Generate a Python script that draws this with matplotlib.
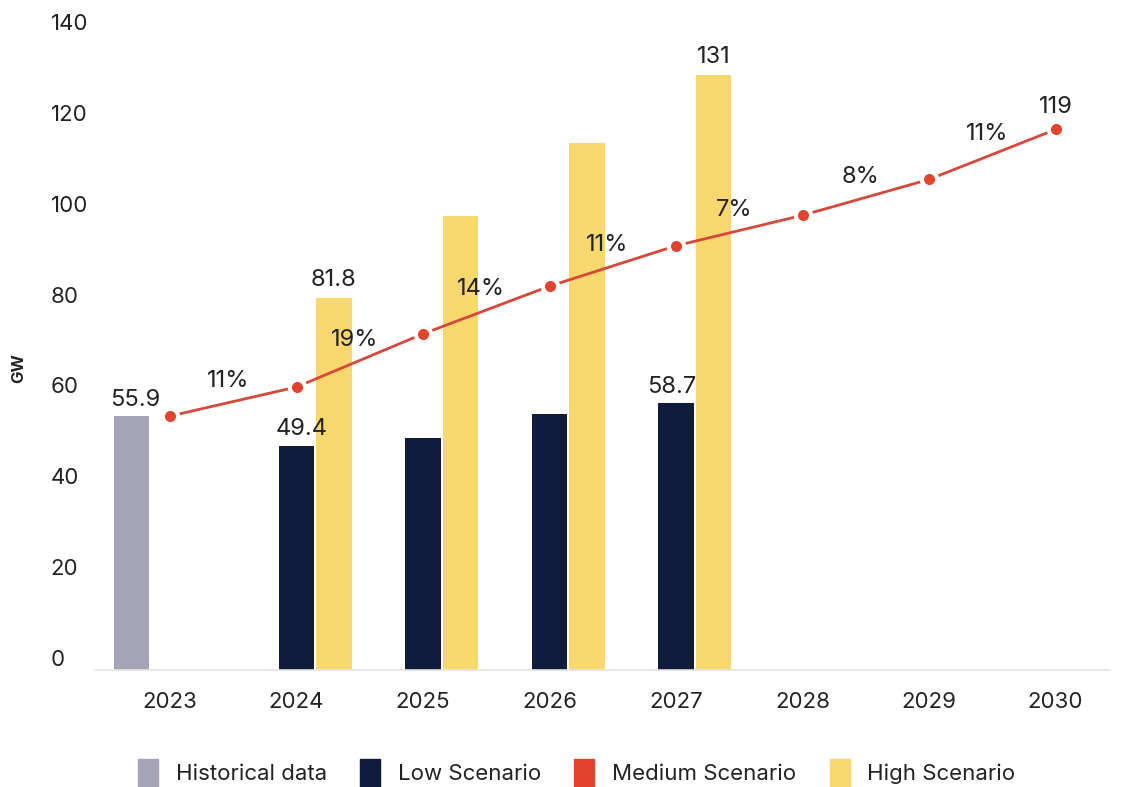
import matplotlib
matplotlib.use("Agg")
import matplotlib.pyplot as plt
import matplotlib.transforms as mtransforms
from matplotlib.patches import Patch
import numpy as np

plt.rcParams['font.family'] = ['Inter', 'DejaVu Sans']

years = ['2023', '2024', '2025', '2026', '2027', '2028', '2029', '2030']
historical = [55.9]                     # 2023 only
low = [49.4, 51.1, 56.4, 58.7]          # 2024-2027
high = [81.8, 100.0, 116.0, 131.0]      # 2024-2027
medium = [55.9, 62.3, 74.0, 84.5, 93.4, 100.1, 108.0, 119.0]
growth = ['11%', '19%', '14%', '11%', '7%', '8%', '11%']

c_hist = '#a5a4b7'
c_low = '#0f1c3b'
c_med = '#e4422b'
c_high = '#f8d86c'
txt = '#222222'

fig = plt.figure(figsize=(11.24, 7.87), dpi=100)
ax = fig.add_axes([0.0845, 0.1487, 0.903, 0.808])

x = np.arange(len(years))
w = 0.28

ax.bar(x[0] - 0.305, historical, w, color=c_hist)
ax.bar(x[1:5], low, w, color=c_low)
ax.bar(x[1:5] + 0.295, high, w, color=c_high)

ax.plot(x, medium, color='#d9473b', lw=2, zorder=3)
ax.plot(x, medium, ls='none', marker='o', ms=11, mfc=c_med, mec='white', mew=3, zorder=4)

lab = dict(ha='center', va='bottom', fontsize=17, color=txt)
ax.annotate('%.1f' % historical[0], (x[0] - 0.305, historical[0]), xytext=(3, 4), textcoords='offset points', **lab)
ax.annotate('%.1f' % low[0], (x[1], low[0]), xytext=(4, 4), textcoords='offset points', **lab)
ax.annotate('%.1f' % low[3], (x[4], low[3]), xytext=(-3, 4), textcoords='offset points', **lab)
ax.annotate('%.1f' % high[0], (x[1] + 0.295, high[0]), xytext=(0, 5), textcoords='offset points', **lab)
ax.annotate('%g' % high[3], (x[4] + 0.295, high[3]), xytext=(0, 5), textcoords='offset points', **lab)
ax.annotate('%g' % medium[-1], (x[-1], medium[-1]), xytext=(0, 8), textcoords='offset points', **lab)

for i, g in enumerate(growth):
    mx = (x[i] + x[i + 1]) / 2
    my = (medium[i] + medium[i + 1]) / 2
    ax.annotate(g, (mx, my), xytext=(-4, 15), textcoords='offset points',
                ha='center', va='center', fontsize=17, color=txt)

ax.set_xlim(-0.593, 7.43)
ax.set_ylim(0, 140)
ax.set_xticks(x)
ax.set_xticklabels(years)
ax.set_yticks(np.arange(0, 141, 20))

for s in ['top', 'right', 'left']:
    ax.spines[s].set_visible(False)
ax.spines['bottom'].set_color('#e3e3e3')
ax.spines['bottom'].set_linewidth(1.2)

ax.tick_params(axis='x', length=0, pad=16, labelsize=16, labelcolor=txt)
ax.tick_params(axis='y', length=0, pad=32, labelsize=16, labelcolor=txt)
shift = mtransforms.ScaledTranslation(0, 0.12, fig.dpi_scale_trans)
for t in ax.get_yticklabels():
    t.set_horizontalalignment('left')
    t.set_transform(t.get_transform() + shift)

fig.text(0.017, 0.532, 'GW', rotation=90, ha='center', va='center',
         fontsize=12, fontweight='bold', color=txt)

handles = [Patch(color=c_hist), Patch(color=c_low), Patch(color=c_med), Patch(color=c_high)]
names = ['Historical data', 'Low Scenario', 'Medium Scenario', 'High Scenario']
fig.legend(handles, names, loc='center', bbox_to_anchor=(0.513, 0.018), ncol=4,
           frameon=False, fontsize=16, handlelength=0.9, handleheight=1.6,
           handletextpad=0.8, columnspacing=1.5, labelcolor=txt)

fig.savefig('out.png', dpi=100)
